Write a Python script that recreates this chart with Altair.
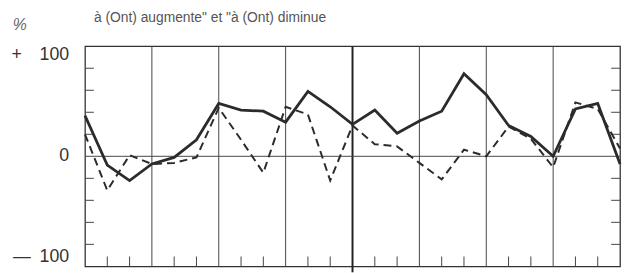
import altair as alt
import pandas as pd

# ---- data ----
steps = list(range(25))
solid = [37, -8, -22, -7, -1, 15, 48, 42, 41, 31, 59, 45, 29, 42, 21, 32, 41, 75, 56, 28, 18, 0, 43, 48, -7]
dashed = [20, -31, 1, -7, -6, -1, 44, 15, -15, 45, 38, -22, 28, 11, 9, -6, -21, 6, 0, 27, 16, -10, 49, 43, 7]
grid_x = [3, 6, 9, 15, 18, 21]
center_x = [12]
y_minor = [-80, -60, -40, -20, 20, 40, 60, 80]
x_minor = [k for k in range(1, 24) if k % 3 != 0]
y_label_vals = [100, 0, -100]
y_label_txt = ["+\u2002\u2002100", "0", "\u2014\u2002100"]
head_text = ['à (Ont) augmente"  et  "à (Ont) diminue']
unit_text = ["%"]

W, H = 542, 223
ink = "#2b2b2b"

xs = alt.Scale(domain=[0, 24], nice=False, zero=False)
ys = alt.Scale(domain=[-100, 100], nice=False, zero=False)

df = pd.DataFrame({"k": steps, "solid": solid, "dashed": dashed})
lab = pd.DataFrame({"v": y_label_vals, "t": y_label_txt})

vgrid = alt.Chart(pd.DataFrame({"g": grid_x})).mark_rule(color="#444", strokeWidth=1).encode(
    x=alt.X("g:Q", scale=xs, axis=None), y=alt.value(0), y2=alt.value(H))
cgrid = alt.Chart(pd.DataFrame({"g": center_x})).mark_rule(color="#222", strokeWidth=2).encode(
    x=alt.X("g:Q", scale=xs, axis=None), y=alt.value(0), y2=alt.value(H + 6))
zero = alt.Chart(pd.DataFrame({"z": [0]})).mark_rule(color="#444", strokeWidth=1).encode(
    y=alt.Y("z:Q", scale=ys, axis=None), x=alt.value(0), x2=alt.value(W))
lt = alt.Chart(pd.DataFrame({"t": y_minor})).mark_rule(color="#444", strokeWidth=1).encode(
    y=alt.Y("t:Q", scale=ys, axis=None), x=alt.value(0), x2=alt.value(9))
rt = alt.Chart(pd.DataFrame({"t": y_minor})).mark_rule(color="#444", strokeWidth=1).encode(
    y=alt.Y("t:Q", scale=ys, axis=None), x=alt.value(W - 9), x2=alt.value(W))
bt = alt.Chart(pd.DataFrame({"t": x_minor})).mark_rule(color="#444", strokeWidth=1).encode(
    x=alt.X("t:Q", scale=xs, axis=None), y=alt.value(H - 10), y2=alt.value(H))

l_dash = alt.Chart(df).mark_line(color=ink, strokeWidth=2, strokeDash=[8, 5]).encode(
    x=alt.X("k:Q", scale=xs, axis=None), y=alt.Y("dashed:Q", scale=ys, axis=None))
l_solid = alt.Chart(df).mark_line(color=ink, strokeWidth=2.8).encode(
    x=alt.X("k:Q", scale=xs, axis=None), y=alt.Y("solid:Q", scale=ys, axis=None))

def ylab(base, cond):
    return alt.Chart(lab).transform_filter(cond).mark_text(
        align="right", baseline=base, font="Liberation Sans", fontSize=18, color="#333").encode(
        text="t:N", x=alt.value(-16), y=alt.Y("v:Q", scale=ys, axis=None))

lab_top = ylab("top", "datum.v > 0")
lab_mid = ylab("middle", "datum.v == 0")
lab_bot = ylab("bottom", "datum.v < 0")

head = alt.Chart(pd.DataFrame({"t": head_text})).mark_text(
    align="left", baseline="top", font="Liberation Sans", fontSize=14, color="#555").encode(
    text="t:N", x=alt.value(9), y=alt.value(-36))
unit = alt.Chart(pd.DataFrame({"t": unit_text})).mark_text(
    align="center", baseline="middle", font="Liberation Sans", fontSize=16, fontStyle="italic", color="#666").encode(
    text="t:N", x=alt.value(-66), y=alt.value(-21))

chart = alt.layer(vgrid, cgrid, zero, lt, rt, bt, l_dash, l_solid,
                  lab_top, lab_mid, lab_bot, head, unit).properties(
    width=W, height=H,
    padding={"left": 78, "top": 37, "right": 2, "bottom": 6},
    autosize=alt.AutoSizeParams(type="none"),
    background="white",
).configure_view(stroke="#333", strokeWidth=1.3)

chart.save("out.html", embed_options={"renderer": "svg", "actions": False})
